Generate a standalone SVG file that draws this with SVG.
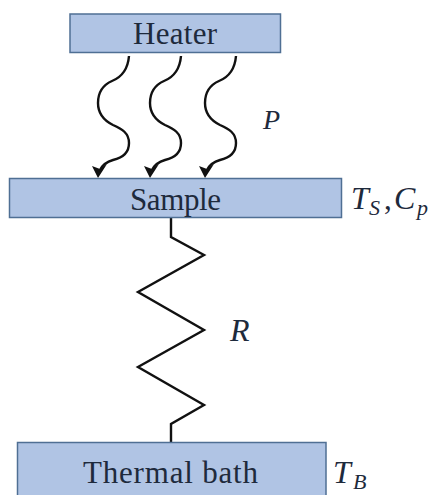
<svg xmlns="http://www.w3.org/2000/svg" width="430" height="495" viewBox="0 0 430 495">
<style>
.box{fill:#b0c4e4;stroke:#4f6f94;stroke-width:1.5}
.t{font-family:"Liberation Serif",serif;fill:#1e2a3c;font-size:31px}
.m{font-family:"Liberation Serif",serif;font-style:italic;fill:#1e2a3c;font-size:32px}
.s{font-size:22px}
.w{fill:none;stroke:#111;stroke-width:2.4}
</style>
<defs>
<path id="wave" class="w" d="M129 56C128 68 122 77 112 81C103 85 98 93 98 103C98 114 105 121 113 125C122 129 129 133 129 143C129 153 122 158 113 160C106 162 102 166 100 170"/>
<path id="head" d="M98 178L92 166L100 169L107 164Z" fill="#111"/>
</defs>
<rect width="430" height="495" fill="#fff"/>
<g id="connectors">
<use href="#wave"/><use href="#head"/>
<use href="#wave" x="52"/><use href="#head" x="52"/>
<use href="#wave" x="107"/><use href="#head" x="107"/>
<path class="w" d="M171 218V237L204 255L138 292L204 330L138 367L204 405L171 424V443"/>
</g>
<g id="heater"><rect class="box" x="70" y="14" width="210.500" height="38.500"/><text class="t" x="133" y="44" textLength="84" lengthAdjust="spacing">Heater</text></g>
<g id="sample"><rect class="box" x="9.500" y="178.500" width="332" height="39"/><text class="t" x="130" y="210" textLength="91" lengthAdjust="spacing">Sample</text></g>
<g id="bath"><rect class="box" x="17.500" y="442.500" width="308.500" height="60"/><text class="t" x="83" y="483" textLength="175" lengthAdjust="spacing">Thermal bath</text></g>
<text class="m" x="263" y="129" style="font-size:28px">P</text>
<text class="m" x="230" y="341">R</text>
<text class="m" x="351" y="209">T</text>
<text class="m s" x="369" y="215">S</text>
<text class="t" x="384" y="209">,</text>
<text class="m" x="394" y="209">C</text>
<text class="m s" x="417" y="215">p</text>
<text class="m" x="333" y="483">T</text>
<text class="m s" x="353" y="489">B</text>
</svg>
